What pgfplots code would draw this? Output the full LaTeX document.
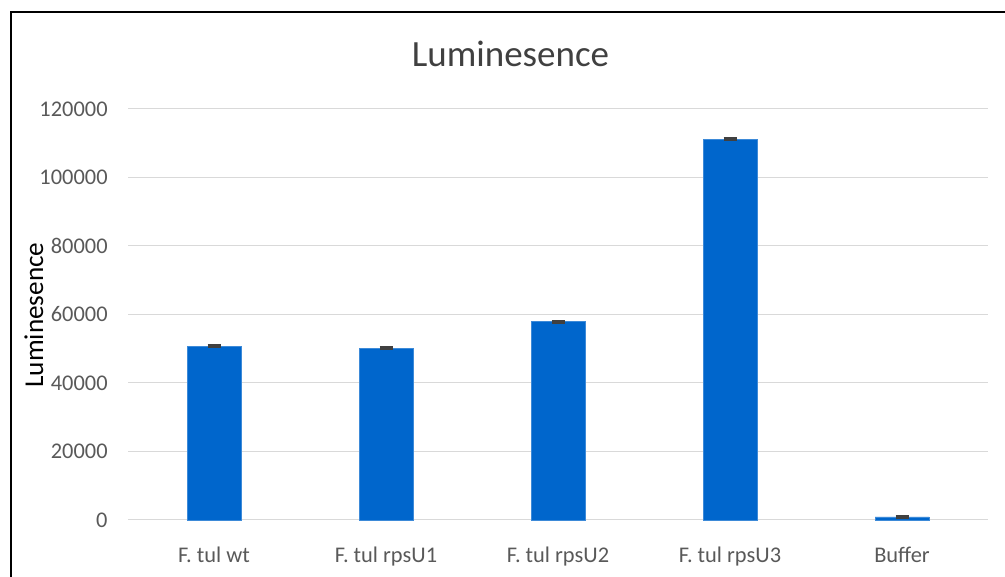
\documentclass[border=0pt]{standalone}
\usepackage{fontspec}
\setmainfont{Carlito}
\usepackage{pgfplots}
\pgfplotsset{compat=1.18}
\definecolor{barblue}{HTML}{0066CC}
\definecolor{baredge}{HTML}{3D8AD8}
\definecolor{gridgray}{HTML}{D9D9D9}
\definecolor{ticktext}{HTML}{595959}
\definecolor{titletext}{HTML}{404040}
\definecolor{errgray}{HTML}{404040}
\begin{document}
\begin{tikzpicture}
\path[use as bounding box] (0,0) rectangle (502.5pt,288.5pt);
\begin{axis}[
  at={(64pt,28.5pt)},
  scale only axis,
  width=430pt, height=205.5pt,
  xmin=-0.5, xmax=4.5,
  ymin=0, ymax=120000,
  ytick={0,20000,40000,60000,80000,100000,120000},
  yticklabels={0,20000,40000,60000,80000,100000,120000},
  xtick={0,1,2,3,4},
  xticklabels={F. tul wt, F. tul rpsU1, F. tul rpsU2, F. tul rpsU3, Buffer},
  scaled y ticks=false,
  major tick length=0pt,
  axis x line*=bottom,
  axis y line*=left,
  x axis line style={draw=gridgray, line width=0.5pt, -},
  y axis line style={draw=none, -},
  ymajorgrids,
  grid style={draw=gridgray, line width=0.5pt},
  ticklabel style={font=\fontsize{11.2}{13}\selectfont, text=ticktext},
  yticklabel style={anchor=east, inner sep=0pt, xshift=-10pt},
  xticklabel style={anchor=base, inner sep=0pt, yshift=-21pt},
  clip=false,
]
\addplot[ybar, bar width=27pt, fill=barblue, draw=baredge, line width=0.4pt,
  error bars/.cd, y dir=both, y explicit,
  error bar style={draw=errgray, line width=1pt},
  error mark options={rotate=90, mark size=3.25pt, line width=1pt, draw=errgray}]
  coordinates {
    (0,50800) +- (0,250)
    (1,50200) +- (0,200)
    (2,57900) +- (0,250)
    (3,111150) +- (0,300)
    (4,900) +- (0,250)
  };
\end{axis}
\draw[line width=1pt, black] (5.5pt,0) -- (5.5pt,282.5pt) -- (502.5pt,282.5pt);
\node[anchor=base, inner sep=0pt, text=titletext, font=\fontsize{18.5}{22}\selectfont] at (255.25pt,255pt) {Luminesence};
\node[rotate=90, anchor=base, inner sep=0pt, text=black, font=\fontsize{13.6}{16}\selectfont] at (21.5pt,131pt) {Luminesence};
\end{tikzpicture}
\end{document}
